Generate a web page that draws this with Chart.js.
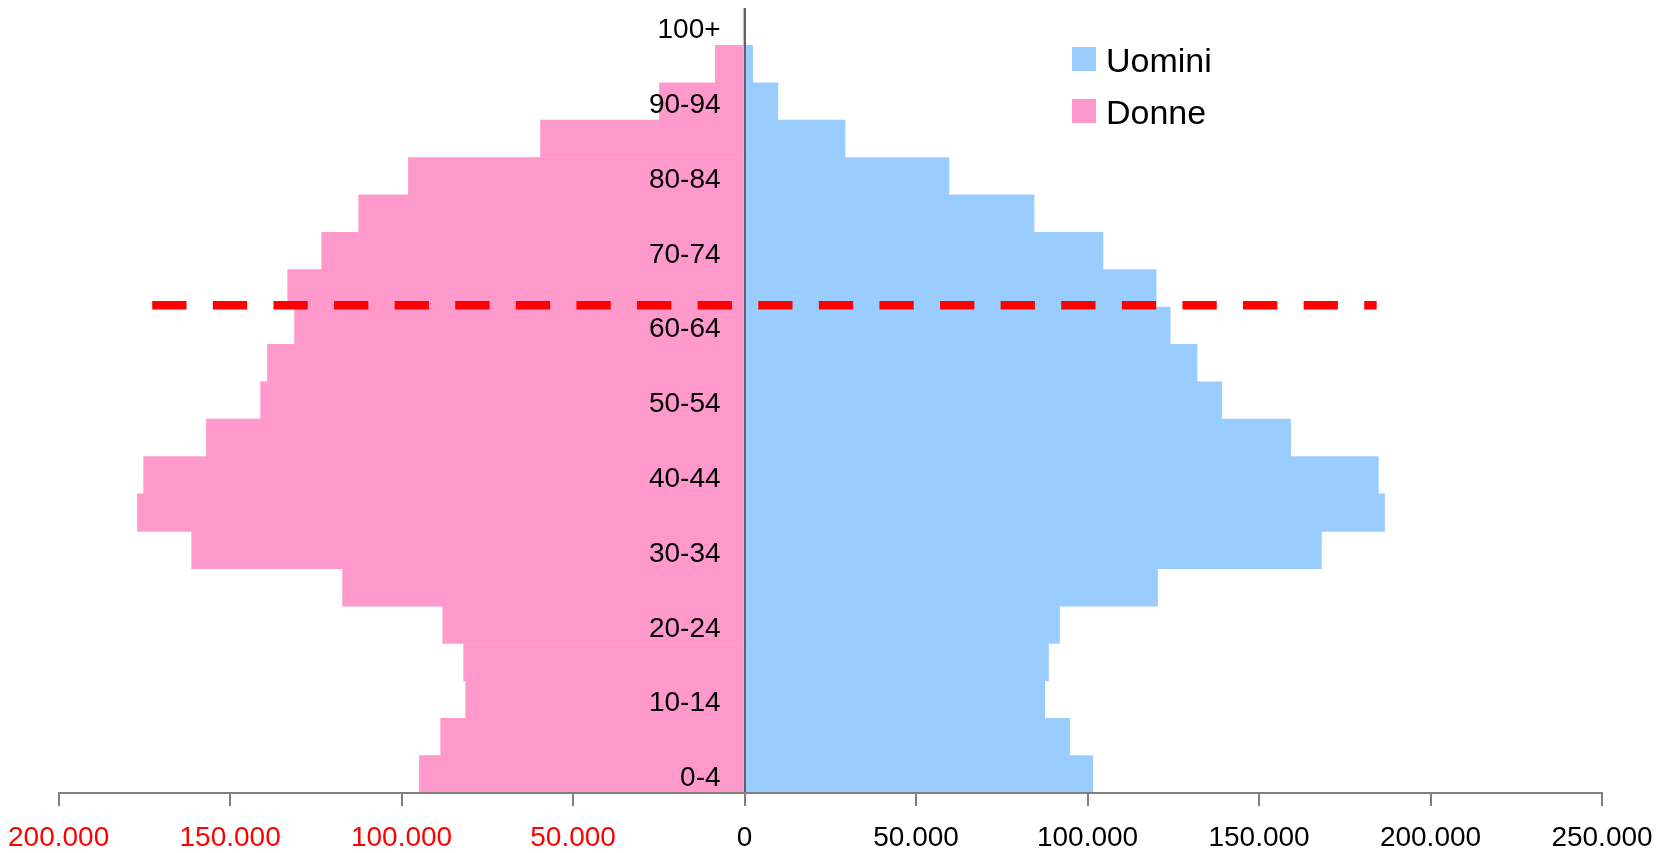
<!DOCTYPE html>
<html>
<head>
<meta charset="utf-8">
<script src="https://cdn.jsdelivr.net/npm/chart.js@4/dist/chart.umd.min.js"></script>
<style>
  body { margin: 0; background: #fff; }
  #wrap { width: 1669px; height: 853px; position: relative; }
</style>
</head>
<body>
<div id="wrap"><canvas id="piramide"></canvas></div>
<script>
// Classi di età (dal basso verso l'alto)
const classi = ['0-4', '5-9', '10-14', '15-19', '20-24', '25-29', '30-34', '35-39', '40-44', '45-49',
  '50-54', '55-59', '60-64', '65-69', '70-74', '75-79', '80-84', '85-89', '90-94', '95-99', '100+'];

const uomini = [101500, 94800, 87500, 88600, 91800, 120400, 168200, 186600, 184800, 159200,
  139100, 131900, 124100, 120000, 104500, 84400, 59600, 29300, 9700, 2400, 300];

const donne = [94800, 88600, 81300, 81900, 88000, 117200, 161200, 177000, 175200, 156900,
  141100, 139100, 131200, 133200, 123300, 112500, 98000, 59500, 24800, 8500, 400];

// Linea tratteggiata (soglia 65 anni): estremi sull'asse x, posizione sull'asse delle classi
const sogliaX = [-172700, 184300];
const sogliaY = 12.55;

const assiX = [-200000, 250000, 50000];

function formatta(v) {
  return Math.abs(v).toString().replace(/\B(?=(\d{3})+(?!\d))/g, '.');
}

// Linea tratteggiata disegnata con le scale del grafico
const sogliaPlugin = {
  id: 'soglia',
  afterDatasetsDraw(chart) {
    const ctx = chart.ctx;
    const x = chart.scales.x;
    const y = chart.scales.y;
    const py = y.getPixelForValue(sogliaY);
    ctx.save();
    ctx.strokeStyle = '#ff0000';
    ctx.lineWidth = 8.5;
    ctx.lineCap = 'butt';
    ctx.setLineDash([34.3, 26.3]);
    ctx.beginPath();
    ctx.moveTo(x.getPixelForValue(sogliaX[0]), py);
    ctx.lineTo(x.getPixelForValue(sogliaX[1]), py);
    ctx.stroke();
    ctx.restore();
  }
};

// Legenda disegnata a mano
const legendaPlugin = {
  id: 'legenda',
  afterDraw(chart) {
    const ctx = chart.ctx;
    const voci = chart.data.datasets;
    ctx.save();
    ctx.font = '34px "Liberation Sans", Arial, sans-serif';
    ctx.textBaseline = 'alphabetic';
    ctx.textAlign = 'left';
    voci.forEach((ds, i) => {
      const y = 47 + i * 52;
      ctx.fillStyle = ds.backgroundColor;
      ctx.fillRect(1072, y, 24, 24);
      ctx.fillStyle = '#000';
      ctx.fillText(ds.label, 1106, y + 25);
    });
    ctx.restore();
  }
};

const ctx = document.getElementById('piramide').getContext('2d');
new Chart(ctx, {
  type: 'bar',
  data: {
    labels: classi,
    datasets: [
      {
        label: 'Uomini',
        data: uomini,
        backgroundColor: '#99ccff',
        borderWidth: 0,
        grouped: false,
        categoryPercentage: 1,
        barPercentage: 1
      },
      {
        label: 'Donne',
        data: donne.map(v => -v),
        backgroundColor: '#ff99cc',
        borderWidth: 0,
        grouped: false,
        categoryPercentage: 1,
        barPercentage: 1
      }
    ]
  },
  options: {
    indexAxis: 'y',
    responsive: true,
    maintainAspectRatio: false,
    animation: false,
    layout: { padding: { left: 58, right: 67, top: 8, bottom: 0 } },
    plugins: {
      legend: { display: false },
      tooltip: { enabled: false }
    },
    scales: {
      x: {
        type: 'linear',
        min: assiX[0],
        max: assiX[1],
        afterFit: s => { s.height = 60; },
        grid: {
          z: 1,
          drawOnChartArea: true,
          drawTicks: true,
          tickLength: 13,
          color: c => c.tick && c.tick.value === 0 ? '#5f6068' : 'rgba(0,0,0,0)',
          lineWidth: 2,
          tickColor: '#000',
          tickWidth: 1
        },
        border: { color: '#808080', width: 2, z: 1 },
        ticks: {
          stepSize: assiX[2],
          padding: 8,
          maxRotation: 0,
          font: { family: '"Liberation Sans", Arial, sans-serif', size: 28, lineHeight: 1.7 },
          color: c => c.tick.value < 0 ? '#ff0000' : '#000000',
          callback: v => formatta(v)
        }
      },
      y: {
        type: 'category',
        reverse: true,
        position: { x: -7000 },
        grid: { display: false, drawTicks: false },
        border: { display: false },
        ticks: {
          z: 1,
          autoSkip: false,
          padding: 0,
          labelOffset: 4,
          font: { family: '"Liberation Sans", Arial, sans-serif', size: 28, lineHeight: 0.5 },
          color: '#000',
          callback: (v, i) => i % 2 === 0 ? classi[i] : ''
        }
      }
    }
  },
  plugins: [sogliaPlugin, legendaPlugin]
});
</script>
</body>
</html>
